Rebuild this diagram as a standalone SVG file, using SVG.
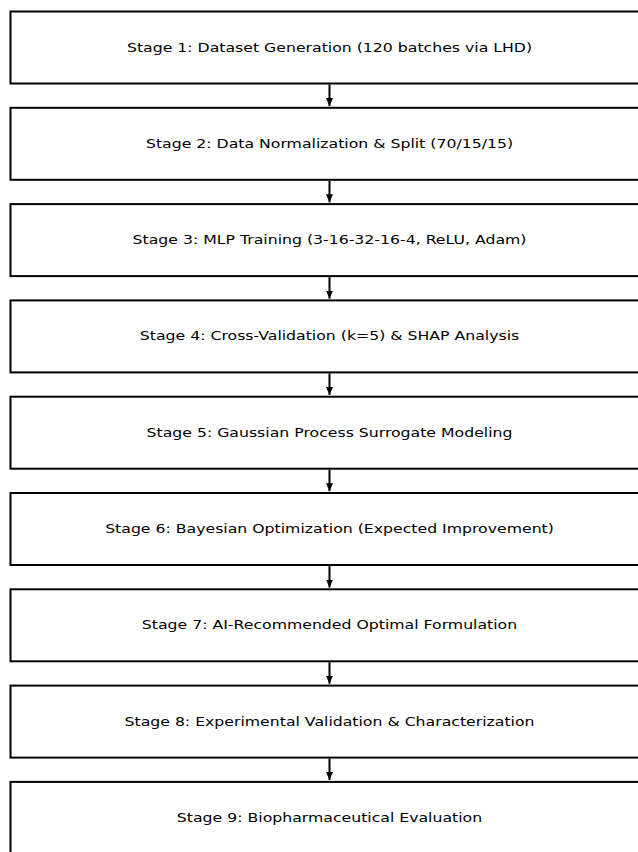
<svg xmlns="http://www.w3.org/2000/svg" width="638" height="852" viewBox="0 0 638 852">
<style>
.box{fill:#fff;stroke:#000;stroke-width:2}
.lbl{font-family:"DejaVu Sans",sans-serif;font-size:13px;fill:#000;text-anchor:middle;dominant-baseline:central}
.conn{stroke:#000;stroke-width:2;fill:none}
</style>
<defs>
<marker id="ah" markerUnits="userSpaceOnUse" markerWidth="8" markerHeight="8" viewBox="0 0 8 8" refX="8" refY="4" orient="auto">
<path d="M0,0.5 L8,4 L0,7.5 Z" fill="#000"/>
</marker>
</defs>
<rect width="638" height="852" fill="#fff"/>
<g id="n1"><rect class="box" x="10.5" y="11.5" width="640" height="72"/><text class="lbl" transform="translate(329.5,47) scale(1.21,1)">Stage 1: Dataset Generation (120 batches via LHD)</text></g>
<g id="n2"><rect class="box" x="10.5" y="107.8" width="640" height="72"/><text class="lbl" transform="translate(329.5,143.3) scale(1.21,1)">Stage 2: Data Normalization &amp; Split (70/15/15)</text></g>
<g id="n3"><rect class="box" x="10.5" y="204.1" width="640" height="72"/><text class="lbl" transform="translate(329.5,239.6) scale(1.21,1)">Stage 3: MLP Training (3-16-32-16-4, ReLU, Adam)</text></g>
<g id="n4"><rect class="box" x="10.5" y="300.4" width="640" height="72"/><text class="lbl" transform="translate(329.5,335.9) scale(1.21,1)">Stage 4: Cross-Validation (k=5) &amp; SHAP Analysis</text></g>
<g id="n5"><rect class="box" x="10.5" y="396.7" width="640" height="72"/><text class="lbl" transform="translate(329.5,432.2) scale(1.21,1)">Stage 5: Gaussian Process Surrogate Modeling</text></g>
<g id="n6"><rect class="box" x="10.5" y="493" width="640" height="72"/><text class="lbl" transform="translate(329.5,528.5) scale(1.21,1)">Stage 6: Bayesian Optimization (Expected Improvement)</text></g>
<g id="n7"><rect class="box" x="10.5" y="589.3" width="640" height="72"/><text class="lbl" transform="translate(329.5,624.8) scale(1.21,1)">Stage 7: AI-Recommended Optimal Formulation</text></g>
<g id="n8"><rect class="box" x="10.5" y="685.6" width="640" height="72"/><text class="lbl" transform="translate(329.5,721.1) scale(1.21,1)">Stage 8: Experimental Validation &amp; Characterization</text></g>
<g id="n9"><rect class="box" x="10.5" y="781.9" width="640" height="100"/><text class="lbl" transform="translate(329.5,817.4) scale(1.21,1)">Stage 9: Biopharmaceutical Evaluation</text></g>
<g id="connectors">
<line class="conn" x1="329.5" y1="84.5" x2="329.5" y2="106" marker-end="url(#ah)"/>
<line class="conn" x1="329.5" y1="180.8" x2="329.5" y2="202.3" marker-end="url(#ah)"/>
<line class="conn" x1="329.5" y1="277.1" x2="329.5" y2="298.6" marker-end="url(#ah)"/>
<line class="conn" x1="329.5" y1="373.4" x2="329.5" y2="394.9" marker-end="url(#ah)"/>
<line class="conn" x1="329.5" y1="469.7" x2="329.5" y2="491.2" marker-end="url(#ah)"/>
<line class="conn" x1="329.5" y1="566" x2="329.5" y2="587.5" marker-end="url(#ah)"/>
<line class="conn" x1="329.5" y1="662.3" x2="329.5" y2="683.8" marker-end="url(#ah)"/>
<line class="conn" x1="329.5" y1="758.6" x2="329.5" y2="780.1" marker-end="url(#ah)"/>
</g>
</svg>
